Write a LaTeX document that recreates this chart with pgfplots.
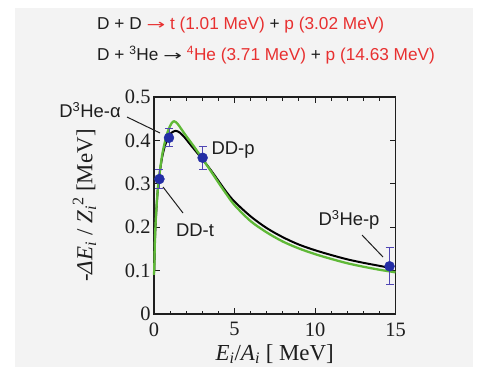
\documentclass[border=0pt]{standalone}
\usepackage{fontspec}
\setmainfont{Liberation Serif}
\newfontfamily\arial{Liberation Sans}
\newfontfamily\djv{DejaVu Sans}
\usepackage{pgfplots}
\pgfplotsset{compat=1.18}
\definecolor{panel}{RGB}{243,243,243}
\definecolor{cgreen}{RGB}{95,185,55}
\definecolor{cblue}{RGB}{35,45,165}
\definecolor{cerr}{RGB}{80,70,180}
\definecolor{cred}{RGB}{232,48,48}
\definecolor{ctext}{RGB}{30,30,30}
\newcommand{\rarr}{{\djv\fontsize{14}{15}\selectfont\scalebox{1.6}[1]{→}}}
\begin{document}
\begin{tikzpicture}[x=1bp,y=1bp]
\useasboundingbox (0,0) rectangle (480,367);
\fill[white] (0,0) rectangle (480,367);
\fill[panel] (15,0) rectangle (473,359);
% top text
\node[anchor=west,inner sep=0,font=\arial\fontsize{17.3}{20}\selectfont,text=ctext] at (97,342)
 {D + D \textcolor{cred}{\rarr{} t (1.01 MeV)} + \textcolor{cred}{p (3.02 MeV)}};
\node[anchor=west,inner sep=0,font=\arial\fontsize{17.3}{20}\selectfont,text=ctext] at (97,312)
 {D + \textsuperscript{3}He \rarr{} \textcolor{cred}{\textsuperscript{4}He (3.71 MeV)} + \textcolor{cred}{p (14.63 MeV)}};
\begin{axis}[
  at={(154bp,53bp)}, anchor=south west,
  scale only axis, width=241.5bp, height=217bp,
  xmin=0, xmax=15, ymin=0, ymax=0.5,
  xtick={0,5,10,15}, minor x tick num=4,
  ytick={0,0.1,0.2,0.3,0.4,0.5},
  yticklabels={0,0.1,0.2,0.3,0.4,0.5},
  xticklabels={0,5,10,15},
  tick align=inside, tick pos=both,
  major tick length=6bp, minor tick length=3.5bp,
  axis line style={ctext, line width=1.1pt},
  every tick/.style={ctext, line width=0.9pt},
  tick label style={font=\fontsize{20.5}{22}\selectfont, text=ctext},
  xticklabel style={yshift=-5bp},
  /pgf/number format/assume math mode=true,
  xlabel={\textit{E}\textsubscript{\textit{i}}/\textit{A}\textsubscript{\textit{i}} [ MeV]},
  ylabel={-\textit{ΔE}\textsubscript{\textit{i}} / \textit{Z}\textsubscript{\textit{i}}\textsuperscript{2} [MeV]},
  label style={font=\fontsize{23}{25}\selectfont, text=ctext},
  xlabel style={yshift=-1bp},
  ylabel style={yshift=22bp},
  clip=false,
]
\addplot[black, line width=2pt, smooth] coordinates {
(0.02,0.10)(0.05,0.16)(0.1,0.21)(0.2,0.27)(0.3,0.31)(0.5,0.36)(0.7,0.39)(0.9,0.408)(1.1,0.418)(1.35,0.422)(1.6,0.418)(1.9,0.407)(2.2,0.393)(2.6,0.375)(3.0,0.357)(3.5,0.333)(4,0.307)(4.5,0.281)(5,0.259)(6,0.225)(7,0.198)(8,0.177)(9,0.160)(10,0.147)(11,0.136)(12,0.126)(13,0.118)(14,0.111)(14.7,0.106)};
\addplot[cgreen, line width=2.3pt, smooth] coordinates {
(0.0,0.09)(0.02,0.11)(0.05,0.16)(0.1,0.21)(0.2,0.27)(0.3,0.31)(0.5,0.365)(0.7,0.40)(0.9,0.425)(1.1,0.440)(1.25,0.444)(1.45,0.439)(1.7,0.426)(2.0,0.41)(2.5,0.385)(3.0,0.358)(3.5,0.331)(4,0.303)(4.5,0.276)(5,0.251)(6,0.214)(7,0.188)(8,0.167)(9,0.151)(10,0.138)(11,0.127)(12,0.117)(13,0.109)(14,0.102)(15,0.096)};
\addplot[only marks, mark=*, mark size=5pt, color=cblue,
  error bars/.cd, y dir=both, y explicit,
  error bar style={cerr, line width=0.9pt},
  error mark options={rotate=90, mark size=4pt, cerr, line width=0.9pt}]
  coordinates {
  (0.337,0.311) +- (0,0.021)
  (0.93,0.406) +- (0,0.021)
  (3.02,0.36) +- (0,0.027)
  (14.63,0.11) +- (0,0.043)
};
\end{axis}
% annotations
\begin{scope}[font=\arial\fontsize{18.5}{20}\selectfont, text=ctext]
\node at (90,257) {D\textsuperscript{3}He-α};
\node at (233,217) {DD-p};
\node at (195,137) {DD-t};
\node at (349,147) {D\textsuperscript{3}He-p};
\end{scope}
\draw[ctext, line width=1pt] (127,250) -- (160,234);
\draw[ctext, line width=1pt] (163,180) -- (183,154);
\draw[ctext, line width=1pt] (362,132) -- (383,110);
\end{tikzpicture}
\end{document}
